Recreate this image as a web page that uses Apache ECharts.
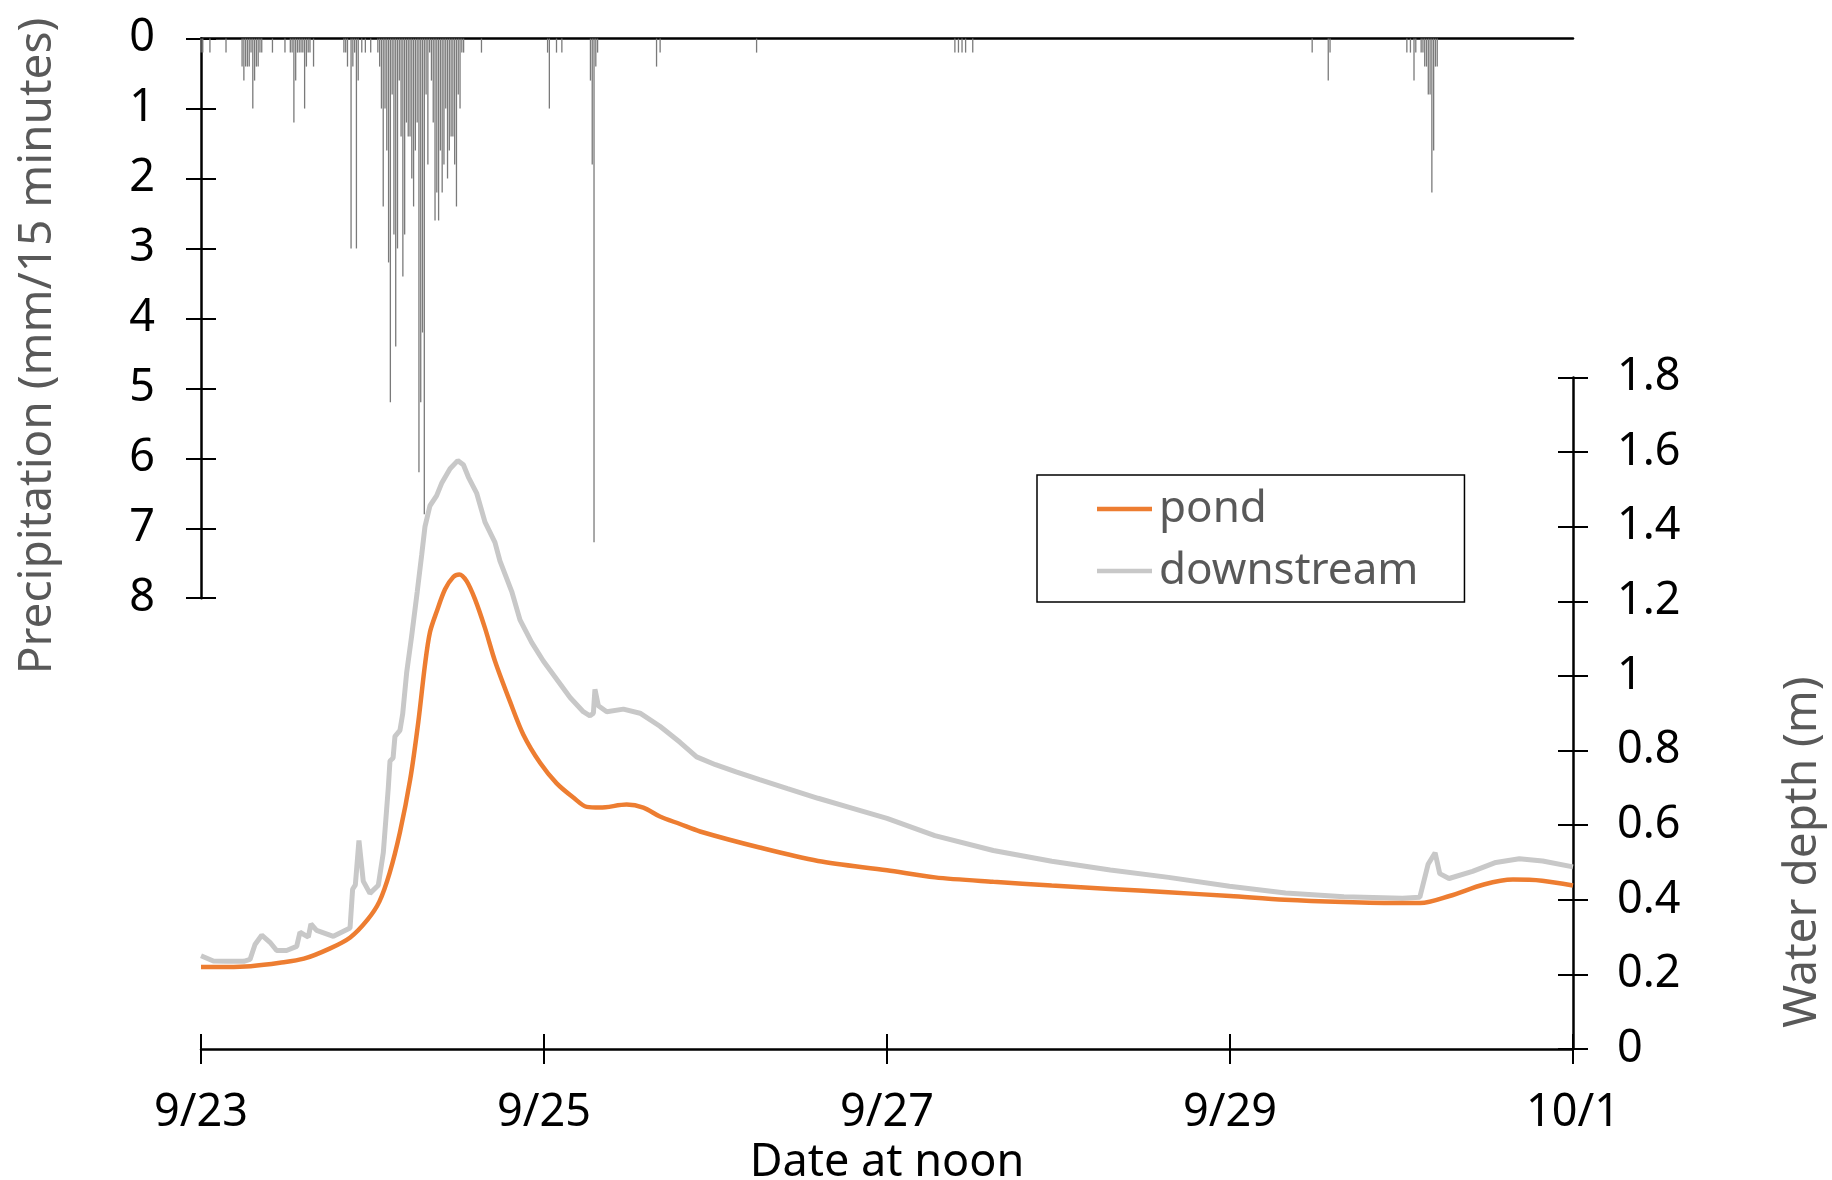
<!DOCTYPE html>
<html><head><meta charset="utf-8">
<script src="https://cdn.jsdelivr.net/npm/echarts@6.0.0/dist/echarts.min.js"></script>
<style>html,body{margin:0;padding:0;background:#fff}#c{width:1832px;height:1180px}</style>
</head><body><div id="c"></div>
<script>
// x positions are in days after 9/23 12:00
const tickLabels = ['9/23', '9/25', '9/27', '9/29', '10/1'];
const seriesNames = ['pond', 'downstream'];

// precipitation: 15-minute interval index (from 9/23 12:00) and depth in mm
const precipIndex = [0,1,5,14,23,24,25,26,27,28,29,30,31,32,33,34,40,47,50,51,52,53,54,55,56,57,58,59,60,61,63,
  80,81,82,84,85,86,87,88,90,92,95,99,100,101,102,103,104,105,106,107,108,109,110,111,112,113,114,115,116,117,118,119,120,
  121,122,123,124,125,126,127,128,129,130,131,132,133,134,135,136,137,138,139,140,141,142,143,144,145,146,147,
  157,194,195,199,202,218,219,220,221,222,255,257,311,422,424,426,428,432,622,631,632,
  675,677,679,680,683,684,685,686,687,688,689,690,691,692];
const precipMm = [0.2,0.2,0.2,0.2,0.4,0.6,0.4,0.4,0.4,0.2,1.0,0.6,0.4,0.4,0.2,0.2,0.2,0.2,0.2,0.2,1.2,0.6,0.2,0.2,0.2,0.2,1.0,0.4,0.2,0.2,0.4,
  0.2,0.2,0.4,3.0,0.4,0.2,3.0,0.6,0.2,0.2,0.2,0.2,0.4,1.0,2.4,1.0,1.6,3.2,5.2,0.8,2.8,4.4,3.0,0.6,1.4,3.4,2.8,1.2,1.4,1.4,2.0,2.4,1.6,
  1.2,6.2,5.2,4.2,6.8,0.8,1.8,0.2,0.6,1.2,2.6,2.2,2.6,1.6,2.2,1.8,1.0,2.0,1.6,1.4,1.4,1.8,2.4,0.8,1.0,0.2,0.2,
  0.2,0.2,1.0,0.2,0.2,0.6,1.8,7.2,0.4,0.2,0.4,0.2,0.2,0.2,0.2,0.2,0.2,0.2,0.2,0.6,0.2,
  0.2,0.2,0.6,0.2,0.2,0.2,0.4,0.4,0.8,0.8,2.2,1.6,0.4,0.4];

// pond water depth (m)
const pondDay = [0,0.15,0.29,0.46,0.6,0.75,0.87,0.97,1.04,1.10,1.16,1.22,1.267,1.306,1.335,1.374,1.423,1.471,1.506,1.549,1.598,1.656,1.714,1.802,1.879,1.977,2.074,2.171,2.249,2.327,2.482,2.579,2.676,2.793,2.91,3.257,3.598,4.0,4.28,4.62,4.96,5.3,5.64,6.0,6.32,6.66,7.0,7.11,7.28,7.48,7.65,7.82,8.0];
const pondDepth = [0.22,0.22,0.222,0.231,0.242,0.269,0.299,0.346,0.395,0.472,0.581,0.723,0.876,1.03,1.117,1.172,1.232,1.265,1.272,1.254,1.205,1.128,1.04,0.931,0.843,0.767,0.712,0.674,0.649,0.647,0.655,0.647,0.623,0.603,0.583,0.54,0.504,0.479,0.46,0.448,0.438,0.429,0.42,0.41,0.40,0.394,0.391,0.391,0.41,0.441,0.454,0.451,0.438];

// downstream water depth (m)
const downDay = [0,0.072,0.15,0.25,0.286,0.315,0.354,0.402,0.441,0.499,0.558,0.577,0.626,0.641,0.674,0.772,0.869,0.884,0.90,0.921,0.946,0.985,1.034,1.063,1.092,1.102,1.12,1.131,1.16,1.176,1.199,1.228,1.261,1.287,1.306,1.335,1.374,1.403,1.452,1.497,1.530,1.559,1.608,1.656,1.714,1.743,1.812,1.86,1.928,1.996,2.074,2.152,2.229,2.268,2.288,2.297,2.317,2.366,2.463,2.56,2.676,2.793,2.89,3.0,3.12,3.257,3.42,3.598,3.8,4.0,4.279,4.62,4.961,5.302,5.642,5.997,6.324,6.664,7.005,7.107,7.155,7.196,7.223,7.277,7.414,7.55,7.687,7.823,8.0];
const downDepth = [0.25,0.236,0.235,0.235,0.24,0.28,0.305,0.286,0.264,0.264,0.275,0.313,0.30,0.335,0.318,0.302,0.324,0.428,0.44,0.559,0.45,0.417,0.439,0.526,0.70,0.772,0.78,0.838,0.854,0.898,1.008,1.106,1.226,1.325,1.40,1.456,1.483,1.516,1.555,1.577,1.566,1.533,1.489,1.412,1.358,1.308,1.226,1.15,1.09,1.04,0.991,0.942,0.904,0.893,0.90,0.964,0.92,0.904,0.911,0.90,0.865,0.822,0.783,0.762,0.743,0.722,0.698,0.672,0.645,0.618,0.572,0.532,0.503,0.48,0.46,0.436,0.418,0.408,0.404,0.407,0.495,0.526,0.47,0.457,0.476,0.50,0.51,0.504,0.488];

const FONT = '"Noto Sans", sans-serif';
const PLOT_L = 201, PLOT_W = 1372;
const chart = echarts.init(document.getElementById('c'), null, {renderer: 'canvas'});

const precipData = precipIndex.map((k, j) => [k / 96, precipMm[j]]);
const pondData = pondDay.map((d, j) => [d, pondDepth[j]]);
const downData = downDay.map((d, j) => [d, downDepth[j]]);

const tickOut = {show: true, inside: false, length: 15, lineStyle: {color: '#000', width: 2}};
const tickIn = {show: true, inside: true, length: 15, lineStyle: {color: '#000', width: 2}};
const labelStyle = {fontSize: 45, color: '#000', fontFamily: FONT};

chart.setOption({
  animation: false,
  backgroundColor: '#fff',
  grid: [
    {left: PLOT_L, width: PLOT_W, top: 38.6, height: 559.6, outerBoundsMode: 'none', containLabel: false},
    {left: PLOT_L, width: PLOT_W, top: 377.4, height: 671.6, outerBoundsMode: 'none', containLabel: false}
  ],
  xAxis: [
    {type: 'value', gridIndex: 0, position: 'top', min: 0, max: 8, interval: 2,
     axisLine: {show: true, onZero: false, lineStyle: {color: '#000', width: 2.5}}, axisTick: {show: false},
     axisLabel: {show: false}, splitLine: {show: false}},
    {type: 'value', gridIndex: 1, position: 'bottom', min: 0, max: 8, interval: 2,
     axisLine: {show: true, onZero: false, lineStyle: {color: '#000', width: 2.5}}, axisTick: tickOut,
     axisLabel: Object.assign({margin: 42, showMinLabel: true, showMaxLabel: true, hideOverlap: false,
       formatter: v => tickLabels[Math.round(v / 2)]}, labelStyle),
     splitLine: {show: false},
     name: 'Date at noon', nameLocation: 'middle', nameGap: 91,
     nameTextStyle: {fontSize: 45, color: '#000', fontFamily: FONT}},
    {type: 'value', gridIndex: 1, position: 'bottom', min: 0, max: 8, interval: 2,
     axisLine: {show: false, onZero: false}, axisTick: tickIn, axisLabel: {show: false}, splitLine: {show: false}}
  ],
  yAxis: [
    {type: 'value', gridIndex: 0, position: 'left', inverse: true, min: 0, max: 8, interval: 1,
     axisLine: {show: true, onZero: false, lineStyle: {color: '#000', width: 2.5}}, axisTick: tickOut,
     axisLabel: Object.assign({margin: 46, showMinLabel: true, showMaxLabel: true, hideOverlap: false}, labelStyle),
     splitLine: {show: false}},
    {type: 'value', gridIndex: 0, position: 'left', inverse: true, min: 0, max: 8, interval: 1,
     axisLine: {show: false, onZero: false}, axisTick: tickIn, axisLabel: {show: false}, splitLine: {show: false}},
    {type: 'value', gridIndex: 1, position: 'right', min: 0, max: 1.8, interval: 0.2,
     axisLine: {show: true, onZero: false, lineStyle: {color: '#000', width: 2.5}}, axisTick: tickOut,
     axisLabel: Object.assign({margin: 44, showMinLabel: true, showMaxLabel: true, hideOverlap: false,
       formatter: v => String(Math.round(v * 10) / 10)}, labelStyle),
     splitLine: {show: false}},
    {type: 'value', gridIndex: 1, position: 'right', min: 0, max: 1.8, interval: 0.2,
     axisLine: {show: false, onZero: false}, axisTick: tickIn, axisLabel: {show: false}, splitLine: {show: false}}
  ],
  legend: {
    data: seriesNames.map(n => ({name: n, icon: 'rect'})), orient: 'vertical', left: 1037, top: 475,
    padding: [12, 46, 9, 60], itemGap: 18, itemWidth: 55, itemHeight: 4.5,
    borderColor: '#000', borderWidth: 1.5, backgroundColor: '#fff',
    textStyle: {fontSize: 44, color: '#595959', fontFamily: FONT, padding: [0, 0, 0, 2]}
  },
  graphic: [
    {type: 'text', x: 38, y: 346, rotation: Math.PI / 2,
     style: {text: 'Precipitation (mm/15 minutes)', fontSize: 46, fontFamily: FONT, fill: '#595959',
       align: 'center', verticalAlign: 'middle', textAlign: 'center', textVerticalAlign: 'middle'}},
    {type: 'text', x: 1803, y: 852, rotation: Math.PI / 2,
     style: {text: 'Water depth (m)', fontSize: 46, fontFamily: FONT, fill: '#595959',
       align: 'center', verticalAlign: 'middle', textAlign: 'center', textVerticalAlign: 'middle'}}
  ],
  series: [
    {name: 'precipitation', type: 'bar', xAxisIndex: 0, yAxisIndex: 0, data: precipData,
     barWidth: 1.3, itemStyle: {color: '#7a7a7a'}, z: 3},
    {name: 'downstream', type: 'line', xAxisIndex: 1, yAxisIndex: 2, data: downData,
     symbol: 'none', lineStyle: {color: '#C8C8C8', width: 5}, itemStyle: {color: '#C8C8C8'}, z: 4},
    {name: 'pond', type: 'line', xAxisIndex: 1, yAxisIndex: 2, data: pondData, smooth: 0.3,
     symbol: 'none', lineStyle: {color: '#ED7D31', width: 4.5}, itemStyle: {color: '#ED7D31'}, z: 5}
  ]
});
</script></body></html>
